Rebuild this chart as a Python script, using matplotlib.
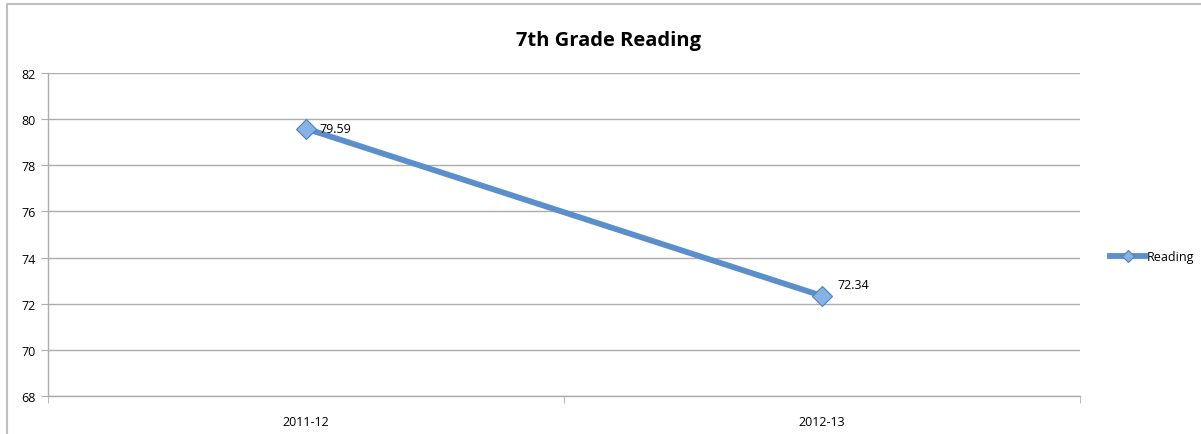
import matplotlib
matplotlib.use('Agg')
import matplotlib.pyplot as plt
from matplotlib.patches import Rectangle
from matplotlib.lines import Line2D

# dati del grafico
categories = ['2011-12', '2012-13']
reading = [79.59, 72.34]
label_offsets = [(10, 0), (11, 8)]  # posizione etichette dati (punti)
y_ticks = [68, 70, 72, 74, 76, 78, 80, 82]

plt.rcParams['font.family'] = ['Open Sans', 'DejaVu Sans']

line_color = '#5B8FCC'
marker_fill = '#86B2E6'
marker_edge = '#4F81BD'
grid_color = '#ADADAD'

fig = plt.figure(figsize=(12.01, 4.35), dpi=100)

# cornice esterna del grafico
fig.patches.append(Rectangle((7 / 1201, -0.1), 1.2, 1.1 - 5 / 435,
                             transform=fig.transFigure, fill=False,
                             edgecolor='#BFBFBF', linewidth=1.5))

ax = fig.add_axes([48 / 1201, 1 - 397 / 435, 1032 / 1201, 323 / 435])

x = list(range(len(categories)))
ax.plot(x, reading, color=line_color, linewidth=4.2, marker='D',
        markersize=10, markerfacecolor=marker_fill,
        markeredgecolor=marker_edge, markeredgewidth=0.8, zorder=3)

for xi, v, off in zip(x, reading, label_offsets):
    ax.annotate(f'{v:.2f}', (xi, v), xytext=off, textcoords='offset points',
                fontsize=9, ha='left', va='center', color='black')

ax.set_xlim(-0.5, len(categories) - 0.5)
ax.set_ylim(y_ticks[0], y_ticks[-1])
ax.set_yticks(y_ticks)
ax.set_xticks(x)
ax.set_xticklabels(categories)
ax.set_xticks([-0.5, 0.5, 1.5], minor=True)
ax.tick_params(axis='x', which='major', length=0, pad=14, labelsize=9)
ax.tick_params(axis='x', which='minor', length=5, color=grid_color, direction='out')
ax.tick_params(axis='y', length=5, color=grid_color, direction='out', labelsize=9, pad=4)

ax.grid(axis='y', color=grid_color, linewidth=1)
ax.set_axisbelow(True)
for s in ['top', 'right']:
    ax.spines[s].set_visible(False)
for s in ['left', 'bottom']:
    ax.spines[s].set_color(grid_color)
    ax.spines[s].set_linewidth(1)

fig.text(609 / 1201, 1 - 41 / 435, '7th Grade Reading', ha='center', va='center',
         fontsize=14.5, fontweight='bold')

handle = Line2D([], [], color=line_color, linewidth=4.2, marker='D', markersize=6,
                markerfacecolor=marker_fill, markeredgecolor=marker_edge, markeredgewidth=0.8)
fig.legend([handle], ['Reading'], loc='center left',
           bbox_to_anchor=(1104 / 1201, 1 - 258 / 435), frameon=False,
           fontsize=9, handlelength=2.8, handletextpad=0.1, borderpad=0)

fig.savefig('out.png', dpi=100)
